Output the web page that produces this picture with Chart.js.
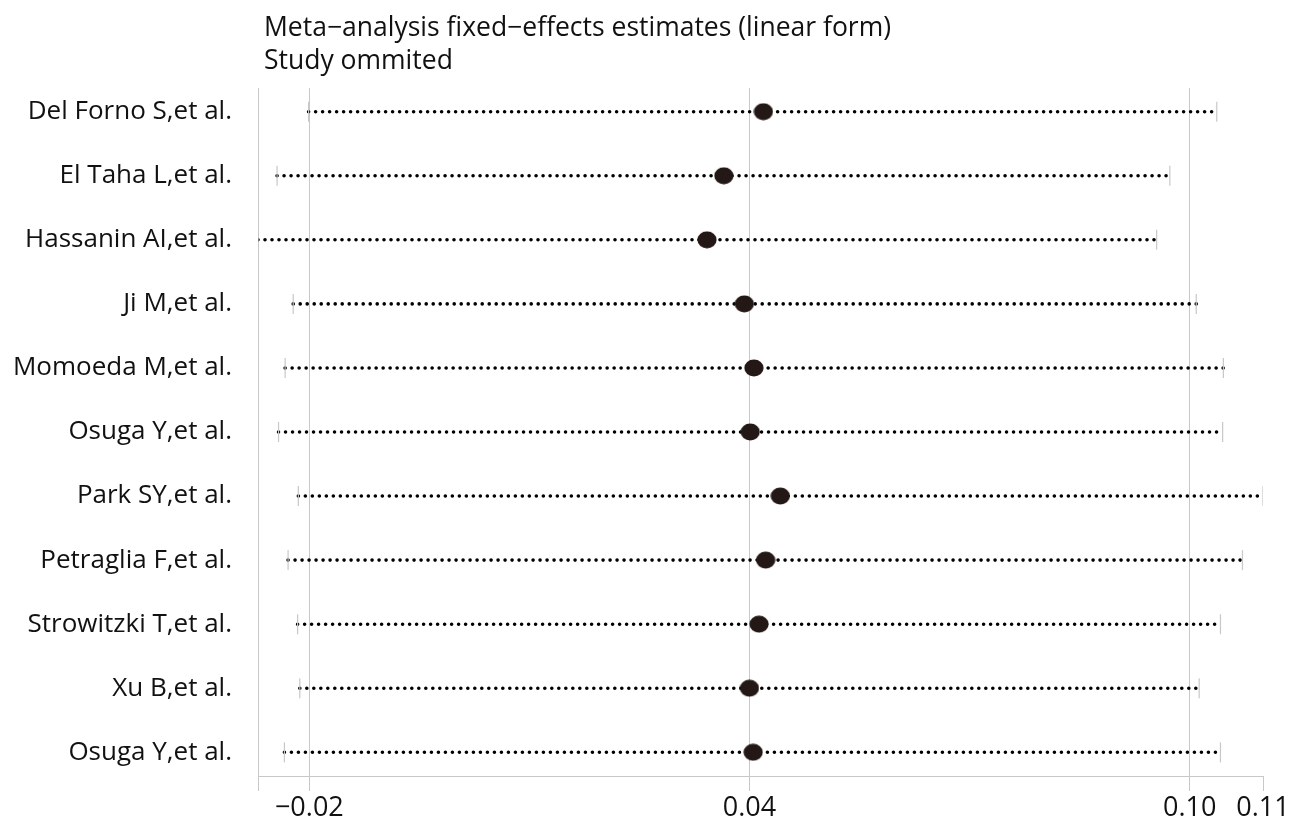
<!DOCTYPE html>
<html>
<head>
<meta charset="utf-8">
<script src="https://cdn.jsdelivr.net/npm/chart.js@4.4.1/dist/chart.umd.min.js"></script>
<style>
  html, body { margin: 0; padding: 0; background: #fff; }
  #wrap { position: relative; width: 1303px; height: 820px; }
  #title {
    position: absolute; left: 264px; top: 10px;
    font-family: "Open Sans", sans-serif; font-size: 26.5px; line-height: 33px;
    color: #111;
  }
</style>
</head>
<body>
<div id="wrap">
  <div id="title">Meta−analysis fixed−effects estimates (linear form)<br>Study ommited</div>
  <canvas id="chart"></canvas>
</div>
<script>
// Study omitted, pooled estimate and its interval
const studies = [
  "Del Forno S,et al.", "El Taha L,et al.", "Hassanin AI,et al.", "Ji M,et al.",
  "Momoeda M,et al.", "Osuga Y,et al.", "Park SY,et al.", "Petraglia F,et al.",
  "Strowitzki T,et al.", "Xu B,et al.", "Osuga Y,et al.",
];
const estimates = [0.0419, 0.0365, 0.0342, 0.0393, 0.0406, 0.0401, 0.0442, 0.0422, 0.0413, 0.0400, 0.0405];
const lowerCI = [-0.0201, -0.0244, -0.0270, -0.0222, -0.0233, -0.0242, -0.0215, -0.0229, -0.0216, -0.0213, -0.0234];
const upperCI = [0.1037, 0.0973, 0.0955, 0.1009, 0.1046, 0.1045, 0.1100, 0.1072, 0.1042, 0.1013, 0.1042];
const xTicks = [-0.027, -0.02, 0.04, 0.10, 0.11];
const xTickLabels = ["", "−0.02", "0.04", "0.10", "0.11"];

const GRID = "#c8c8c8";
const FONT = "'Open Sans', sans-serif";

// slightly oval marker, like the original
const marker = document.createElement("canvas");
marker.width = 20; marker.height = 18;
const mctx = marker.getContext("2d");
mctx.fillStyle = "#231815";
mctx.beginPath();
mctx.ellipse(10, 9, 9.6, 8.4, 0, 0, Math.PI * 2);
mctx.fill();

const ciSets = studies.map((s, i) => ({
  type: "line",
  data: [{ x: lowerCI[i], y: i }, { x: upperCI[i], y: i }],
  borderColor: "#000",
  borderWidth: 3.6,
  borderDash: [0, 7],
  borderCapStyle: "round",
  pointRadius: 0,
  order: 3,
}));

const endSet = {
  type: "scatter",
  data: studies.flatMap((s, i) => [{ x: lowerCI[i], y: i }, { x: upperCI[i], y: i }]),
  pointStyle: "line",
  rotation: 90,
  pointRadius: 10,
  borderColor: GRID,
  borderWidth: 1.2,
  order: 2,
};

const pointSet = {
  type: "scatter",
  data: studies.map((s, i) => ({ x: estimates[i], y: i })),
  pointStyle: marker,
  order: 0,
};

new Chart(document.getElementById("chart"), {
  type: "scatter",
  data: { datasets: [...ciSets, endSet, pointSet] },
  options: {
    responsive: true,
    maintainAspectRatio: false,
    animation: false,
    events: [],
    layout: { padding: { top: 88, right: 40, left: 0, bottom: 0 } },
    plugins: { legend: { display: false }, tooltip: { enabled: false } },
    scales: {
      x: {
        type: "linear",
        min: -0.027,
        max: 0.11,
        afterBuildTicks: (scale) => { scale.ticks = xTicks.map(v => ({ value: v })); },
        afterFit: (scale) => { scale.height = 44; },
        grid: {
          color: (ctx) => (ctx.tick && ctx.tick.value === 0.11 ? "rgba(0,0,0,0)" : GRID),
          tickColor: GRID,
          tickLength: 15,
          lineWidth: 1,
        },
        border: { color: GRID, width: 1 },
        ticks: {
          autoSkip: false,
          maxRotation: 0,
          padding: 1,
          color: "#111",
          font: { family: FONT, size: 27 },
          callback: (v, idx) => xTickLabels[idx],
        },
      },
      y: {
        type: "linear",
        reverse: true,
        min: -0.37,
        max: 10.37,
        afterBuildTicks: (scale) => { scale.ticks = studies.map((s, i) => ({ value: i })); },
        afterFit: (scale) => { scale.width = 258; },
        grid: { display: false },
        border: { color: GRID, width: 1 },
        ticks: {
          padding: 18,
          color: "#111",
          font: { family: FONT, size: 26 },
          callback: (v) => studies[v],
        },
      },
    },
  },
});
</script>
</body>
</html>
